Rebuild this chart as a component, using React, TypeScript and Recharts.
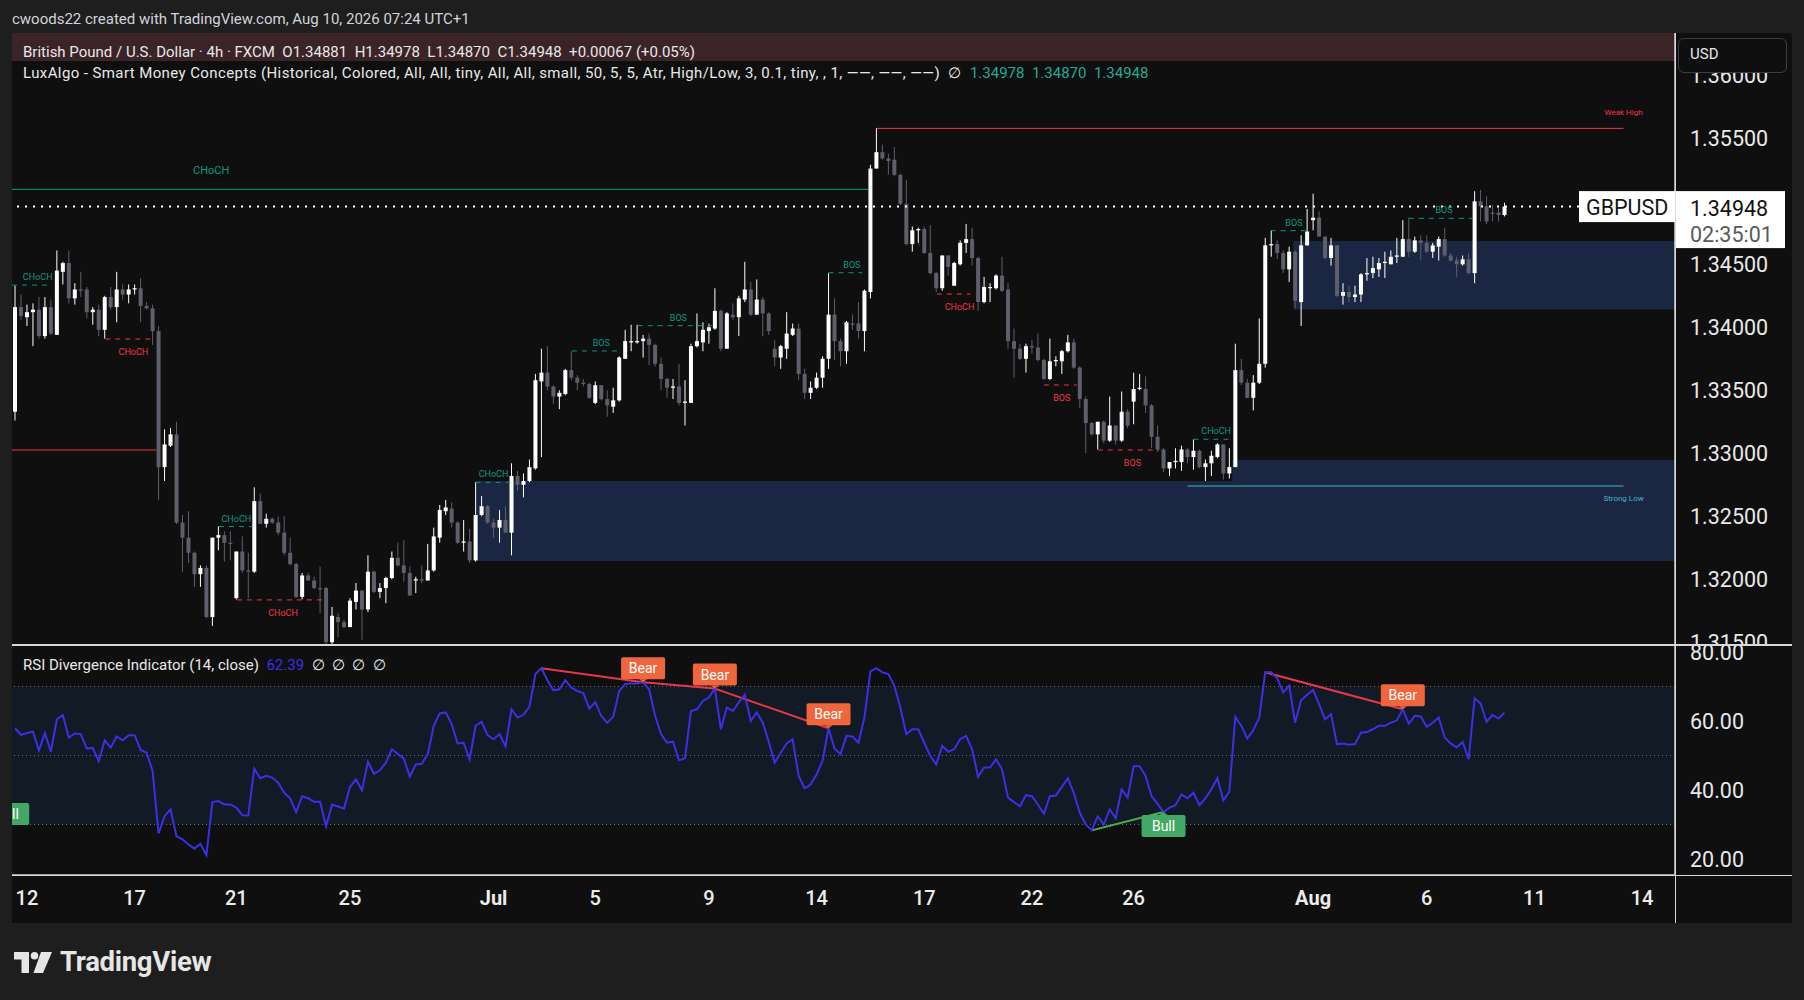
import { Bar, ComposedChart, Line, ReferenceArea, ReferenceDot, ReferenceLine, XAxis, YAxis } from 'recharts';

// 4h GBPUSD candles, Jun 11 -> Aug 10
const OPEN = [
  1.3332, 1.3415, 1.3407, 1.3411, 1.3413, 1.3392, 1.3415, 1.3393, 1.3443, 1.3450,
  1.3422, 1.3429, 1.3429, 1.3411, 1.3413, 1.3397, 1.3423, 1.3415, 1.3429, 1.3425,
  1.3429, 1.3430, 1.3416, 1.3414, 1.3396, 1.3288, 1.3305, 1.3314, 1.3244, 1.3232,
  1.3220, 1.3203, 1.3208, 1.3169, 1.3232, 1.3234, 1.3228, 1.3184, 1.3221, 1.3206,
  1.3205, 1.3261, 1.3243, 1.3247, 1.3244, 1.3236, 1.3220, 1.3211, 1.3185, 1.3202,
  1.3198, 1.3192, 1.3192, 1.3149, 1.3169, 1.3165, 1.3161, 1.3181, 1.3190, 1.3175,
  1.3205, 1.3189, 1.3192, 1.3200, 1.3216, 1.3210, 1.3204, 1.3198, 1.3199, 1.3198,
  1.3206, 1.3232, 1.3253, 1.3255, 1.3244, 1.3228, 1.3229, 1.3214, 1.3250, 1.3257,
  1.3244, 1.3240, 1.3246, 1.3236, 1.3281, 1.3274, 1.3277, 1.3287, 1.3356, 1.3363,
  1.3352, 1.3344, 1.3346, 1.3365, 1.3359, 1.3355, 1.3354, 1.3339, 1.3353, 1.3342,
  1.3336, 1.3341, 1.3374, 1.3387, 1.3387, 1.3388, 1.3390, 1.3385, 1.3370, 1.3358,
  1.3351, 1.3352, 1.3339, 1.3339, 1.3384, 1.3387, 1.3396, 1.3398, 1.3412, 1.3382,
  1.3409, 1.3407, 1.3421, 1.3429, 1.3409, 1.3421, 1.3410, 1.3382, 1.3375, 1.3382,
  1.3393, 1.3398, 1.3362, 1.3347, 1.3351, 1.3359, 1.3374, 1.3409, 1.3388, 1.3380,
  1.3402, 1.3402, 1.3396, 1.3427, 1.3525, 1.3538, 1.3533, 1.3532, 1.3520, 1.3497,
  1.3465, 1.3476, 1.3477, 1.3458, 1.3442, 1.3430, 1.3456, 1.3432, 1.3449, 1.3466,
  1.3469, 1.3454, 1.3419, 1.3430, 1.3430, 1.3440, 1.3429, 1.3388, 1.3382, 1.3374,
  1.3384, 1.3383, 1.3373, 1.3358, 1.3372, 1.3372, 1.3380, 1.3387, 1.3367, 1.3342,
  1.3323, 1.3314, 1.3324, 1.3309, 1.3321, 1.3309, 1.3332, 1.3340, 1.3350, 1.3350,
  1.3337, 1.3312, 1.3302, 1.3287, 1.3292, 1.3292, 1.3302, 1.3296, 1.3301, 1.3288,
  1.3291, 1.3296, 1.3306, 1.3283, 1.3288, 1.3365, 1.3355, 1.3343, 1.3355, 1.3370,
  1.3464, 1.3465, 1.3458, 1.3445, 1.3459, 1.3419, 1.3464, 1.3484, 1.3486, 1.3471,
  1.3454, 1.3464, 1.3424, 1.3427, 1.3423, 1.3425, 1.3441, 1.3442, 1.3445, 1.3450,
  1.3449, 1.3455, 1.3455, 1.3469, 1.3459, 1.3468, 1.3466, 1.3459, 1.3463, 1.3469,
  1.3456, 1.3452, 1.3449, 1.3453, 1.3442, 1.3499, 1.3495, 1.3490, 1.3490, 1.34881,
];
const HIGH = [
  1.3432, 1.3425, 1.3417, 1.3418, 1.3423, 1.3423, 1.3421, 1.3460, 1.3451, 1.3460,
  1.3434, 1.3443, 1.3431, 1.3415, 1.3417, 1.3424, 1.3431, 1.3443, 1.3433, 1.3433,
  1.3433, 1.3438, 1.3419, 1.3417, 1.3400, 1.3318, 1.3319, 1.3324, 1.3250, 1.3253,
  1.3221, 1.3210, 1.3210, 1.3232, 1.3241, 1.3237, 1.3237, 1.3221, 1.3233, 1.3220,
  1.3272, 1.3267, 1.3251, 1.3248, 1.3249, 1.3249, 1.3232, 1.3212, 1.3204, 1.3204,
  1.3201, 1.3209, 1.3193, 1.3177, 1.3172, 1.3167, 1.3184, 1.3196, 1.3190, 1.3218,
  1.3206, 1.3196, 1.3201, 1.3221, 1.3228, 1.3230, 1.3209, 1.3201, 1.3210, 1.3227,
  1.3240, 1.3258, 1.3262, 1.3260, 1.3245, 1.3246, 1.3239, 1.3276, 1.3265, 1.3258,
  1.3247, 1.3254, 1.3257, 1.3291, 1.3285, 1.3283, 1.3294, 1.3362, 1.3382, 1.3384,
  1.3353, 1.3349, 1.3366, 1.3380, 1.3361, 1.3358, 1.3355, 1.3356, 1.3353, 1.3349,
  1.3351, 1.3376, 1.3397, 1.3401, 1.3401, 1.3393, 1.3394, 1.3386, 1.3375, 1.3359,
  1.3358, 1.3370, 1.3357, 1.3386, 1.3410, 1.3403, 1.3402, 1.3430, 1.3413, 1.3411,
  1.3418, 1.3424, 1.3451, 1.3435, 1.3437, 1.3423, 1.3411, 1.3389, 1.3385, 1.3411,
  1.3402, 1.3402, 1.3366, 1.3356, 1.3363, 1.3376, 1.3442, 1.3422, 1.3390, 1.3404,
  1.3409, 1.3419, 1.3429, 1.3528, 1.3557, 1.3544, 1.3537, 1.3542, 1.3521, 1.3516,
  1.3479, 1.3478, 1.3479, 1.3480, 1.3443, 1.3456, 1.3456, 1.3451, 1.3468, 1.3481,
  1.3478, 1.3455, 1.3439, 1.3434, 1.3441, 1.3455, 1.3434, 1.3398, 1.3386, 1.3386,
  1.3389, 1.3394, 1.3374, 1.3390, 1.3376, 1.3381, 1.3393, 1.3390, 1.3368, 1.3344,
  1.3324, 1.3324, 1.3325, 1.3344, 1.3321, 1.3348, 1.3334, 1.3363, 1.3362, 1.3360,
  1.3338, 1.3321, 1.3303, 1.3292, 1.3303, 1.3305, 1.3303, 1.3310, 1.3302, 1.3294,
  1.3301, 1.3307, 1.3306, 1.3303, 1.3386, 1.3374, 1.3358, 1.3361, 1.3406, 1.3470,
  1.3476, 1.3468, 1.3460, 1.3463, 1.3460, 1.3472, 1.3493, 1.3505, 1.3491, 1.3471,
  1.3470, 1.3464, 1.3434, 1.3432, 1.3432, 1.3442, 1.3454, 1.3455, 1.3454, 1.3459,
  1.3460, 1.3470, 1.3484, 1.3486, 1.3471, 1.3472, 1.3472, 1.3466, 1.3471, 1.3478,
  1.3458, 1.3455, 1.3456, 1.3458, 1.3507, 1.3508, 1.3503, 1.3496, 1.3494, 1.34978,
];
const LOW = [
  1.3325, 1.3405, 1.3400, 1.3384, 1.3390, 1.3390, 1.3393, 1.3393, 1.3433, 1.3418,
  1.3417, 1.3423, 1.3406, 1.3401, 1.3392, 1.3390, 1.3413, 1.3403, 1.3421, 1.3418,
  1.3425, 1.3403, 1.3413, 1.3385, 1.3262, 1.3277, 1.3304, 1.3243, 1.3205, 1.3212,
  1.3193, 1.3193, 1.3168, 1.3162, 1.3222, 1.3213, 1.3214, 1.3183, 1.3204, 1.3184,
  1.3204, 1.3243, 1.3240, 1.3243, 1.3234, 1.3218, 1.3210, 1.3184, 1.3183, 1.3198,
  1.3191, 1.3172, 1.3147, 1.3147, 1.3153, 1.3160, 1.3161, 1.3175, 1.3151, 1.3173,
  1.3188, 1.3184, 1.3180, 1.3199, 1.3209, 1.3197, 1.3186, 1.3188, 1.3196, 1.3198,
  1.3205, 1.3228, 1.3250, 1.3240, 1.3227, 1.3221, 1.3212, 1.3213, 1.3249, 1.3243,
  1.3232, 1.3228, 1.3236, 1.3218, 1.3269, 1.3264, 1.3276, 1.3286, 1.3296, 1.3349,
  1.3338, 1.3334, 1.3345, 1.3357, 1.3349, 1.3352, 1.3342, 1.3338, 1.3341, 1.3328,
  1.3331, 1.3340, 1.3374, 1.3380, 1.3386, 1.3375, 1.3369, 1.3368, 1.3349, 1.3343,
  1.3342, 1.3337, 1.3321, 1.3339, 1.3383, 1.3380, 1.3386, 1.3397, 1.3380, 1.3382,
  1.3405, 1.3392, 1.3419, 1.3408, 1.3409, 1.3392, 1.3393, 1.3368, 1.3366, 1.3374,
  1.3392, 1.3357, 1.3342, 1.3342, 1.3350, 1.3351, 1.3366, 1.3373, 1.3368, 1.3370,
  1.3397, 1.3390, 1.3380, 1.3422, 1.3525, 1.3532, 1.3520, 1.3519, 1.3496, 1.3464,
  1.3459, 1.3466, 1.3457, 1.3441, 1.3427, 1.3428, 1.3440, 1.3432, 1.3448, 1.3458,
  1.3448, 1.3412, 1.3418, 1.3419, 1.3429, 1.3427, 1.3382, 1.3359, 1.3373, 1.3363,
  1.3378, 1.3372, 1.3357, 1.3357, 1.3368, 1.3362, 1.3379, 1.3366, 1.3335, 1.3299,
  1.3313, 1.3302, 1.3307, 1.3308, 1.3306, 1.3308, 1.3319, 1.3322, 1.3349, 1.3331,
  1.3303, 1.3300, 1.3284, 1.3281, 1.3287, 1.3285, 1.3291, 1.3286, 1.3287, 1.3277,
  1.3281, 1.3295, 1.3278, 1.3279, 1.3288, 1.3353, 1.3343, 1.3333, 1.3354, 1.3367,
  1.3455, 1.3453, 1.3442, 1.3435, 1.3414, 1.3400, 1.3464, 1.3476, 1.3471, 1.3453,
  1.3448, 1.3423, 1.3417, 1.3419, 1.3419, 1.3419, 1.3436, 1.3438, 1.3439, 1.3438,
  1.3449, 1.3450, 1.3455, 1.3455, 1.3458, 1.3452, 1.3458, 1.3454, 1.3452, 1.3455,
  1.3451, 1.3439, 1.3448, 1.3441, 1.3434, 1.3483, 1.3481, 1.3483, 1.3483, 1.34870,
];
const CLOSE = [
  1.3415, 1.3408, 1.3411, 1.3413, 1.3392, 1.3415, 1.3394, 1.3444, 1.3450, 1.3422,
  1.3429, 1.3428, 1.3411, 1.3413, 1.3397, 1.3423, 1.3415, 1.3429, 1.3425, 1.3429,
  1.3430, 1.3416, 1.3414, 1.3396, 1.3288, 1.3306, 1.3314, 1.3244, 1.3232, 1.3220,
  1.3203, 1.3208, 1.3169, 1.3232, 1.3234, 1.3228, 1.3227, 1.3221, 1.3206, 1.3205,
  1.3261, 1.3243, 1.3247, 1.3244, 1.3236, 1.3220, 1.3211, 1.3185, 1.3202, 1.3198,
  1.3192, 1.3191, 1.3149, 1.3170, 1.3165, 1.3161, 1.3182, 1.3190, 1.3175, 1.3205,
  1.3189, 1.3192, 1.3200, 1.3216, 1.3210, 1.3204, 1.3186, 1.3199, 1.3198, 1.3206,
  1.3233, 1.3254, 1.3256, 1.3244, 1.3228, 1.3229, 1.3214, 1.3250, 1.3257, 1.3244,
  1.3240, 1.3246, 1.3236, 1.3281, 1.3274, 1.3277, 1.3288, 1.3357, 1.3363, 1.3352,
  1.3344, 1.3347, 1.3365, 1.3359, 1.3355, 1.3354, 1.3343, 1.3353, 1.3342, 1.3337,
  1.3341, 1.3375, 1.3388, 1.3388, 1.3388, 1.3390, 1.3385, 1.3370, 1.3358, 1.3351,
  1.3352, 1.3339, 1.3340, 1.3384, 1.3388, 1.3397, 1.3399, 1.3412, 1.3382, 1.3410,
  1.3407, 1.3422, 1.3429, 1.3409, 1.3421, 1.3410, 1.3396, 1.3375, 1.3384, 1.3394,
  1.3398, 1.3362, 1.3347, 1.3351, 1.3359, 1.3374, 1.3409, 1.3388, 1.3380, 1.3403,
  1.3401, 1.3396, 1.3428, 1.3525, 1.3538, 1.3533, 1.3531, 1.3520, 1.3497, 1.3465,
  1.3476, 1.3477, 1.3458, 1.3442, 1.3430, 1.3456, 1.3447, 1.3450, 1.3466, 1.3469,
  1.3454, 1.3419, 1.3431, 1.3431, 1.3440, 1.3428, 1.3388, 1.3382, 1.3374, 1.3384,
  1.3383, 1.3373, 1.3358, 1.3372, 1.3373, 1.3380, 1.3387, 1.3367, 1.3342, 1.3323,
  1.3314, 1.3324, 1.3309, 1.3321, 1.3309, 1.3332, 1.3321, 1.3350, 1.3351, 1.3337,
  1.3312, 1.3302, 1.3287, 1.3292, 1.3293, 1.3302, 1.3296, 1.3301, 1.3288, 1.3291,
  1.3297, 1.3306, 1.3283, 1.3288, 1.3365, 1.3355, 1.3343, 1.3355, 1.3370, 1.3464,
  1.3465, 1.3458, 1.3445, 1.3459, 1.3420, 1.3464, 1.3475, 1.3486, 1.3471, 1.3454,
  1.3464, 1.3424, 1.3427, 1.3423, 1.3425, 1.3441, 1.3442, 1.3446, 1.3450, 1.3451,
  1.3455, 1.3456, 1.3469, 1.3459, 1.3468, 1.3466, 1.3459, 1.3464, 1.3469, 1.3456,
  1.3452, 1.3449, 1.3453, 1.3442, 1.3499, 1.3495, 1.3483, 1.3489, 1.34881, 1.34948,
];
// RSI(14) of close
const RSI = [
  57.9, 56.0, 56.5, 56.9, 51.5, 56.5, 51.1, 60.5, 61.7, 55.2,
  56.4, 56.2, 52.0, 52.2, 48.4, 54.4, 52.3, 55.5, 54.4, 55.9,
  55.9, 51.6, 50.8, 45.5, 27.4, 32.4, 34.4, 26.6, 25.7, 24.2,
  23.0, 24.4, 21.1, 36.5, 36.8, 35.8, 35.8, 34.9, 32.7, 32.6,
  46.2, 43.4, 44.1, 43.6, 42.1, 39.2, 37.6, 33.6, 38.2, 37.6,
  36.6, 36.6, 29.5, 35.8, 35.2, 34.6, 40.9, 43.1, 39.9, 48.2,
  44.7, 45.7, 47.9, 51.8, 50.4, 49.1, 43.9, 47.4, 47.6, 50.4,
  58.6, 62.2, 62.5, 59.1, 53.5, 53.7, 48.9, 58.6, 59.8, 55.9,
  54.7, 56.2, 52.6, 63.4, 61.0, 61.8, 64.1, 73.6, 75.3, 71.8,
  68.9, 69.2, 71.8, 69.7, 68.7, 68.1, 63.6, 65.5, 61.5, 59.5,
  61.2, 68.7, 70.7, 70.9, 70.9, 71.2, 69.2, 61.5, 56.2, 53.7,
  54.0, 48.6, 49.2, 62.9, 63.4, 65.8, 66.8, 69.4, 57.6, 63.9,
  62.9, 65.4, 67.6, 60.0, 62.5, 59.5, 54.0, 47.9, 50.8, 53.5,
  54.7, 44.1, 40.5, 41.6, 44.5, 48.4, 57.9, 52.0, 50.4, 55.7,
  55.5, 53.7, 61.0, 74.4, 75.3, 74.1, 73.6, 70.2, 63.9, 56.2,
  57.6, 57.6, 53.7, 49.9, 47.4, 52.8, 51.1, 51.8, 54.7, 55.7,
  51.8, 43.8, 46.5, 46.5, 48.9, 46.0, 37.8, 36.5, 35.3, 38.5,
  38.2, 35.8, 33.1, 38.2, 38.4, 40.9, 43.4, 39.2, 33.4, 30.0,
  28.3, 32.4, 30.0, 34.4, 31.8, 40.2, 37.8, 46.9, 46.9, 44.1,
  38.2, 36.0, 33.6, 34.9, 35.6, 38.7, 37.6, 39.2, 35.6, 37.6,
  40.2, 43.4, 37.0, 39.5, 61.2, 58.6, 54.9, 57.3, 61.0, 74.1,
  74.1, 72.4, 68.3, 70.2, 59.5, 66.0, 67.6, 69.0, 64.9, 60.5,
  62.0, 53.3, 53.5, 53.1, 53.3, 56.6, 56.8, 57.6, 58.6, 58.6,
  59.5, 60.2, 63.4, 59.2, 61.5, 61.3, 58.3, 59.5, 61.0, 55.2,
  53.5, 52.3, 53.9, 48.9, 66.6, 65.1, 59.8, 61.7, 60.7, 62.39,
];

const DAY_TICKS = [2, 20, 37, 56, 80, 97, 116, 134, 152, 170, 187, 217, 236, 254, 272];
const DAY_LABELS = ['12', '17', '21', '25', 'Jul', '5', '9', '14', '17', '22', '26', 'Aug', '6', '11', '14'];
// 1.35000 sits under the last-price tag, so it is not drawn
const PRICE_TICKS = [1.315, 1.32, 1.325, 1.33, 1.335, 1.34, 1.345, 1.355, 1.36];
const RSI_TICKS = [20, 40, 60, 80];

// smart money concepts: order blocks [x1, x2, top, bottom]
const BLOCKS = [
  [77, 277.5, 1.3277, 1.32135],
  [203.5, 277.5, 1.32937, 1.3277],
  [213.7, 277.5, 1.34674, 1.34132],
];
// structure breaks: label, bullish?, x1, x2, level, label x
const STRUCTURE: [string, boolean, number, number, number, number][] = [
  ['CHoCH', true, -0.5, 5.6, 1.34325, 3.8],
  ['CHoCH', false, 15.1, 22.9, 1.33897, 19.8],
  ['CHoCH', true, 34.1, 39.6, 1.32408, 37],
  ['CHoCH', false, 37.1, 51.6, 1.31826, 44.8],
  ['CHoCH', true, 77, 82.8, 1.32759, 80],
  ['BOS', true, 93.1, 101, 1.33802, 98],
  ['BOS', true, 104.1, 116.5, 1.34003, 110.9],
  ['BOS', true, 136, 141.6, 1.34423, 139.9],
  ['CHoCH', false, 154.1, 159.7, 1.34254, 157.9],
  ['BOS', false, 172, 177.5, 1.33532, 175],
  ['BOS', false, 181, 191.2, 1.33016, 186.8],
  ['CHoCH', true, 197, 202.9, 1.33101, 200.8],
  ['BOS', true, 209.9, 216, 1.34757, 213.8],
  ['BOS', true, 233, 243.6, 1.34855, 238.9],
];
const SWING_LEVELS = [
  { x1: -0.5, x2: 142.6, y: 1.35085, color: '#089981' },
  { x1: -0.5, x2: 23.6, y: 1.33016, color: '#f23645' },
  { x1: 144.1, x2: 268.9, y: 1.35569, color: '#f23645' },
  { x1: 196, x2: 268.9, y: 1.3273, color: '#3fb8c6' },
];
const LAST_PRICE = 1.34948;

// RSI divergences [from, to]
const BEAR_DIV = [[88, 105], [105, 117], [117, 136], [209, 232]];
const BULL_DIV = [[180, 192]];

const X_DOMAIN = [-0.5, 277.5];
const UP = '#ffffff';
const DOWN = '#5d606b';
const GREEN = '#089981';
const RED = '#f23645';
const FONT = 'Roboto, "Noto Sans", sans-serif';
const AXIS_FONT = 21.5;

const candles = OPEN.map((o, i) => ({
  i,
  open: o,
  high: HIGH[i],
  low: LOW[i],
  close: CLOSE[i],
  range: [LOW[i], HIGH[i]],
  rsi: RSI[i],
}));

const Candle = (props: any) => {
  let { x, y, width, height } = props;
  const { open, high, low, close } = props.payload;
  if (height < 0) { y += height; height = -height; }
  const k = high > low ? height / (high - low) : 0;
  const top = y + (high - Math.max(open, close)) * k;
  const bot = y + (high - Math.min(open, close)) * k;
  const color = close >= open ? UP : DOWN;
  const cx = x + width / 2;
  return (
    <g>
      <line x1={cx} x2={cx} y1={y} y2={y + height} stroke={color} strokeWidth={1} />
      <rect x={x} y={top} width={width} height={Math.max(1, bot - top)} fill={color} />
    </g>
  );
};

const PriceTick = ({ x, y, payload }: any) => (
  <text x={x} y={y} dy={9} fill="#e8e8e8" fontSize={AXIS_FONT} fontFamily={FONT}>
    {payload.value.toFixed(5)}
  </text>
);

const RsiTick = ({ x, y, payload }: any) => (
  <text x={x} y={y} dy={8} fill="#e8e8e8" fontSize={AXIS_FONT} fontFamily={FONT}>
    {payload.value.toFixed(2)}
  </text>
);

const DayTick = ({ x, payload }: any) => {
  const label = DAY_LABELS[DAY_TICKS.indexOf(payload.value)];
  const month = label === 'Jul' || label === 'Aug';
  return (
    <text x={x} y={260} textAnchor="middle" fill="#ececec" fontSize={20}
      fontWeight={month ? 700 : 500} fontFamily={FONT}>
      {label}
    </text>
  );
};

const smallText = (text: string, color: string, dy: number, size = 9) => (p: any) => (
  <text x={p.cx} y={p.cy + dy} textAnchor="middle" fill={color} fontSize={size} fontFamily={FONT}>
    {text}
  </text>
);

const PriceTag = ({ cx, cy }: any) => (
  <g fontFamily={FONT} fontSize={AXIS_FONT}>
    <rect x={cx - 96} y={cy - 15.5} width={96} height={31} fill="#ffffff" />
    <text x={cx - 89} y={cy + 8} fill="#131313">GBPUSD</text>
    <rect x={cx} y={cy - 15.5} width={110} height={57} fill="#ffffff" />
    <text x={cx + 15} y={cy + 9} fill="#131313">{LAST_PRICE.toFixed(5)}</text>
    <text x={cx + 15} y={cy + 35} fill="#5a5a5a">02:35:01</text>
  </g>
);

const Tag = (text: string, color: string, below: boolean) => ({ cx, cy }: any) => {
  const w = 44;
  const h = 22;
  const top = below ? cy + 3 : cy - h - 3;
  const tip = below
    ? `M${cx - 4} ${top} L${cx} ${top - 3} L${cx + 4} ${top} Z`
    : `M${cx - 4} ${top + h} L${cx} ${top + h + 3} L${cx + 4} ${top + h} Z`;
  return (
    <g>
      <rect x={cx - w / 2} y={top} width={w} height={h} rx={2} fill={color} />
      <path d={tip} fill={color} />
      <text x={cx} y={top + 16} textAnchor="middle" fill="#ffffff" fontSize={14} fontFamily={FONT}>
        {text}
      </text>
    </g>
  );
};

const BEAR_COLOR = '#f0663c';
const BULL_COLOR = '#43a865';

function PriceChart() {
  return (
    <ComposedChart width={1778} height={612} data={candles} margin={{ top: 0, right: 0, bottom: 0, left: 0 }}>
      <XAxis type="number" dataKey="i" domain={X_DOMAIN} hide allowDataOverflow />
      <YAxis
        orientation="right"
        width={115}
        domain={[1.31468, 1.36326]}
        ticks={PRICE_TICKS}
        interval={0}
        allowDataOverflow
        axisLine={{ stroke: '#d8d8d8', strokeWidth: 1.5 }}
        tickLine={false}
        tickSize={0}
        tickMargin={15}
        tick={<PriceTick />}
      />
      {BLOCKS.map(([x1, x2, y1, y2], k) => (
        <ReferenceArea key={`b${k}`} x1={x1} x2={x2} y1={y1} y2={y2} fill="#1b2742" fillOpacity={1} stroke="none" ifOverflow="hidden" />
      ))}
      {SWING_LEVELS.map((s, k) => (
        <ReferenceLine key={`s${k}`} segment={[{ x: s.x1, y: s.y }, { x: s.x2, y: s.y }]} stroke={s.color} strokeWidth={1} ifOverflow="hidden" />
      ))}
      {STRUCTURE.map(([t, bull, x1, x2, y], k) => (
        <ReferenceLine key={`l${k}`} segment={[{ x: x1, y }, { x: x2, y }]} stroke={bull ? GREEN : RED}
          strokeDasharray="5 5" strokeWidth={1} ifOverflow="hidden" />
      ))}
      {STRUCTURE.map(([t, bull, , , y, lx], k) => (
        <ReferenceDot key={`t${k}`} x={lx} y={y} r={0} ifOverflow="visible"
          shape={smallText(t, bull ? GREEN : RED, bull ? -5 : 16)} />
      ))}
      <ReferenceDot x={32.8} y={SWING_LEVELS[0].y} r={0} ifOverflow="visible" shape={smallText('CHoCH', GREEN, -15, 11)} />
      <ReferenceDot x={268.9} y={SWING_LEVELS[2].y} r={0} ifOverflow="visible" shape={smallText('Weak High', RED, -13, 8)} />
      <ReferenceDot x={268.9} y={SWING_LEVELS[3].y} r={0} ifOverflow="visible" shape={smallText('Strong Low', '#3fb8c6', 15, 8)} />
      <ReferenceLine y={LAST_PRICE} stroke="#ffffff" strokeWidth={2} strokeDasharray="2 6" />
      <Bar dataKey="range" barSize={4} shape={<Candle />} isAnimationActive={false} />
      <ReferenceDot x={277.5} y={LAST_PRICE} r={0} ifOverflow="visible" shape={<PriceTag />} />
    </ComposedChart>
  );
}

function RsiChart() {
  return (
    <ComposedChart width={1778} height={278} data={candles} margin={{ top: 0, right: 0, bottom: 0, left: 0 }}>
      <XAxis
        type="number"
        dataKey="i"
        domain={X_DOMAIN}
        ticks={DAY_TICKS}
        interval={0}
        allowDataOverflow
        height={48}
        axisLine={{ stroke: '#d8d8d8', strokeWidth: 1.5 }}
        tickLine={false}
        tick={<DayTick />}
      />
      <YAxis
        orientation="right"
        width={115}
        domain={[15.36, 82.03]}
        ticks={RSI_TICKS}
        interval={0}
        allowDataOverflow
        axisLine={{ stroke: '#d8d8d8', strokeWidth: 1.5 }}
        tickLine={false}
        tickSize={0}
        tickMargin={15}
        tick={<RsiTick />}
      />
      <ReferenceArea y1={30} y2={70} fill="#111a25" fillOpacity={1} stroke="none" />
      {[70, 50, 30].map(v => (
        <ReferenceLine key={v} y={v} stroke="#6b7280" strokeDasharray="1 3" strokeWidth={1} />
      ))}
      {BEAR_DIV.map(([a, b], k) => (
        <ReferenceLine key={`bd${k}`} segment={[{ x: a, y: RSI[a] }, { x: b, y: RSI[b] }]} stroke="#e8374d" strokeWidth={2} />
      ))}
      {BULL_DIV.map(([a, b], k) => (
        <ReferenceLine key={`ud${k}`} segment={[{ x: a, y: RSI[a] }, { x: b, y: RSI[b] }]} stroke="#4caf50" strokeWidth={2} />
      ))}
      <Line type="linear" dataKey="rsi" stroke="#3b30e6" strokeWidth={2} dot={false} isAnimationActive={false} />
      {BEAR_DIV.map(([, b], k) => (
        <ReferenceDot key={`bt${k}`} x={b} y={RSI[b]} r={0} ifOverflow="visible" shape={Tag('Bear', BEAR_COLOR, false)} />
      ))}
      {BULL_DIV.map(([, b], k) => (
        <ReferenceDot key={`ut${k}`} x={b} y={RSI[b]} r={0} ifOverflow="visible" shape={Tag('Bull', BULL_COLOR, true)} />
      ))}
      <ReferenceDot x={-1.3} y={37.1} r={0} ifOverflow="visible" shape={Tag('Bull', BULL_COLOR, true)} />
    </ComposedChart>
  );
}

const abs = (s: any) => ({ position: 'absolute' as const, ...s });

export default function App() {
  return (
    <div style={abs({ left: 0, top: 0, width: 1804, height: 1000, background: '#1e1e1e', overflow: 'hidden', fontFamily: FONT })}>
      <div style={abs({ left: 12, top: 10, color: '#d1d4dc', fontSize: 15 })}>
        cwoods22 created with TradingView.com, Aug 10, 2026 07:24 UTC+1
      </div>
      <div style={abs({ left: 12, top: 33, width: 1780, height: 890, background: '#0f0f0f' })} />
      <div style={abs({ left: 12, top: 33, width: 1663, height: 28, background: '#3a2427' })} />
      <div style={abs({ left: 12, top: 33 })}><PriceChart /></div>
      <div style={abs({ left: 12, top: 645 })}><RsiChart /></div>
      <div style={abs({ left: 12, top: 644, width: 1780, height: 1.5, background: '#d8d8d8' })} />
      <div style={abs({ left: 12, top: 874.5, width: 1780, height: 1.5, background: '#d8d8d8' })} />
      <div style={abs({ left: 1674.5, top: 33, width: 1.5, height: 890, background: '#d8d8d8' })} />
      <div style={abs({ left: 23, top: 43, color: '#e8e8e8', fontSize: 15, whiteSpace: 'pre' })}>
        {'British Pound / U.S. Dollar · 4h · FXCM  O1.34881  H1.34978  L1.34870  C1.34948  +0.00067 (+0.05%)'}
      </div>
      <div style={abs({ left: 23, top: 64, color: '#e8e8e8', fontSize: 15, whiteSpace: 'pre' })}>
        <span style={{ letterSpacing: 0.4 }}>
          {'LuxAlgo - Smart Money Concepts (Historical, Colored, All, All, tiny, All, All, small, 50, 5, 5, Atr, High/Low, 3, 0.1, tiny, , 1, ——, ——, ——)  ∅  '}
        </span>
        <span style={{ color: '#22ab94' }}>{'1.34978  1.34870  1.34948'}</span>
      </div>
      <div style={abs({ left: 23, top: 656, color: '#e8e8e8', fontSize: 15, whiteSpace: 'pre' })}>
        {'RSI Divergence Indicator (14, close)  '}
        <span style={{ color: '#3b30e6' }}>62.39</span>
        {'  ∅  ∅  ∅  ∅'}
      </div>
      <div style={abs({ left: 1678, top: 38, width: 109, height: 35, boxSizing: 'border-box', border: '1.5px solid #3a3d45', borderRadius: 6, background: '#0f0f0f', color: '#e8e8e8', fontSize: 15, lineHeight: '30px', paddingLeft: 11 })}>
        USD
      </div>
      <svg style={abs({ left: 14, top: 952 })} width={40} height={22}>
        <path d="M0 0 H15 V21 H7.5 V7.5 H0 Z" fill="#e6e6e6" />
        <circle cx={20.5} cy={3.8} r={3.8} fill="#e6e6e6" />
        <path d="M27 0 H38 L29 21 H19.5 Z" fill="#e6e6e6" />
      </svg>
      <div style={abs({ left: 60, top: 945, color: '#e6e6e6', fontSize: 27.5, fontWeight: 700, letterSpacing: -0.3 })}>
        TradingView
      </div>
    </div>
  );
}
